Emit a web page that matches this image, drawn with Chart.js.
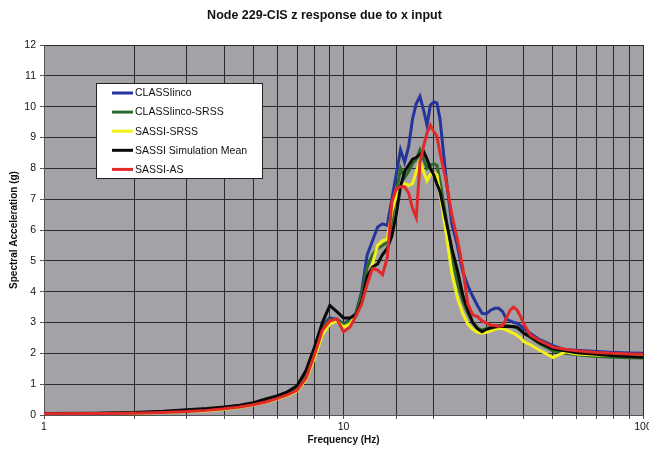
<!DOCTYPE html>
<html>
<head>
<meta charset="utf-8">
<script src="https://cdn.jsdelivr.net/npm/chart.js@4.4.1/dist/chart.umd.min.js"></script>
<style>
  html, body { margin: 0; padding: 0; background: #ffffff; }
  #wrap { width: 649px; height: 457px; }
</style>
</head>
<body>
<div id="wrap"><canvas id="c" width="649" height="457"></canvas></div>
<script>
// Frequencies (Hz) shared by every response spectrum
const frequencies = [1, 1.5, 2, 2.5, 3, 3.5, 4, 4.5, 5, 5.5, 6, 6.5, 7, 7.5, 8, 8.5, 9, 9.5, 10, 10.5,
  11, 11.5, 12, 12.5, 13, 13.5, 14, 14.5, 15, 15.5, 16, 16.5, 17, 17.5, 18, 18.5, 19, 19.5, 20, 20.5,
  21, 22, 23, 24, 25, 26, 27, 28, 29, 30, 31, 32, 33, 34, 35, 36, 37, 38, 39, 40,
  42, 45, 50, 55, 60, 70, 80, 90, 100];

// Spectral acceleration (g) per method
const classIinco = [0.04, 0.05, 0.07, 0.10, 0.13, 0.17, 0.22, 0.28, 0.36, 0.47, 0.57, 0.70, 0.90, 1.30, 2.05, 2.90, 3.15, 3.10, 2.95, 3.10,
  3.30, 4.00, 5.20, 5.65, 6.10, 6.20, 6.15, 7.00, 7.80, 8.60, 8.20, 8.70, 9.60, 10.10, 10.33, 9.90, 9.40, 10.05, 10.15, 10.12,
  9.60, 7.70, 6.20, 5.50, 4.65, 4.20, 3.85, 3.55, 3.30, 3.28, 3.40, 3.46, 3.46, 3.35, 3.10, 3.05, 3.00, 2.98, 2.90, 2.80,
  2.65, 2.45, 2.25, 2.12, 2.10, 2.06, 2.03, 2.01, 2.00];

const classIincoSrss = [0.04, 0.05, 0.07, 0.09, 0.12, 0.16, 0.21, 0.27, 0.34, 0.45, 0.55, 0.67, 0.85, 1.25, 2.00, 2.80, 3.10, 3.10, 2.95, 3.05,
  3.30, 3.90, 4.80, 5.20, 5.40, 5.50, 5.60, 6.30, 7.20, 8.00, 7.70, 7.90, 8.15, 8.30, 8.60, 8.30, 8.00, 8.10, 8.15, 8.10,
  7.60, 6.40, 5.10, 4.30, 3.70, 3.30, 3.00, 2.82, 2.75, 2.80, 2.85, 2.88, 2.90, 2.90, 2.90, 2.88, 2.85, 2.82, 2.75, 2.65,
  2.52, 2.32, 2.08, 2.00, 1.95, 1.90, 1.87, 1.86, 1.85];

const sassiSrss = [0.04, 0.05, 0.06, 0.08, 0.11, 0.14, 0.19, 0.25, 0.32, 0.41, 0.52, 0.63, 0.78, 1.15, 1.85, 2.60, 2.95, 3.05, 2.85, 2.95,
  3.25, 3.70, 4.40, 4.90, 5.50, 5.65, 5.70, 6.60, 7.10, 7.35, 7.50, 7.45, 7.50, 7.90, 8.25, 7.90, 7.60, 7.80, 7.85, 7.80,
  7.20, 5.90, 4.60, 3.80, 3.30, 2.95, 2.78, 2.68, 2.65, 2.68, 2.72, 2.78, 2.81, 2.80, 2.75, 2.70, 2.65, 2.58, 2.50, 2.38,
  2.28, 2.11, 1.86, 2.05, 1.98, 1.95, 1.95, 1.93, 1.92];

const sassiSimulationMean = [0.05, 0.06, 0.08, 0.12, 0.17, 0.21, 0.26, 0.32, 0.40, 0.52, 0.62, 0.75, 0.95, 1.45, 2.20, 3.00, 3.55, 3.35, 3.15, 3.15,
  3.25, 3.70, 4.50, 4.80, 4.90, 5.20, 5.40, 5.80, 6.50, 7.40, 7.90, 8.10, 8.30, 8.35, 8.45, 8.55, 8.30, 8.00, 7.80, 7.50,
  7.25, 6.30, 5.40, 4.70, 3.90, 3.40, 3.00, 2.80, 2.70, 2.78, 2.82, 2.85, 2.87, 2.87, 2.87, 2.87, 2.87, 2.85, 2.75, 2.65,
  2.55, 2.35, 2.15, 2.08, 2.02, 1.97, 1.92, 1.90, 1.87];

const sassiAs = [0.04, 0.05, 0.06, 0.08, 0.11, 0.15, 0.20, 0.26, 0.33, 0.42, 0.53, 0.65, 0.80, 1.20, 1.95, 2.75, 3.05, 3.12, 2.70, 2.85,
  3.20, 3.60, 4.25, 4.75, 4.70, 4.55, 5.10, 6.90, 7.35, 7.40, 7.40, 7.20, 6.70, 6.40, 8.20, 8.70, 9.15, 9.40, 9.20, 9.05,
  8.50, 7.60, 6.50, 5.70, 4.80, 3.60, 3.25, 3.19, 3.05, 2.98, 2.92, 2.90, 2.87, 2.90, 3.15, 3.40, 3.50, 3.40, 3.20, 2.95,
  2.60, 2.42, 2.20, 2.13, 2.08, 2.03, 2.00, 1.98, 1.97];

const seriesNames = ['CLASSIinco', 'CLASSIinco-SRSS', 'SASSI-SRSS', 'SASSI Simulation Mean', 'SASSI-AS'];
const seriesValues = [classIinco, classIincoSrss, sassiSrss, sassiSimulationMean, sassiAs];
const seriesColors = ['#24349a', '#2f6a2c', '#f2f21a', '#0a0a0a', '#e02a2a'];

const yTicks = [0, 1, 2, 3, 4, 5, 6, 7, 8, 9, 10, 11, 12];
const xLabelled = [1, 10, 100];

const FONT = "'Liberation Sans', Arial, sans-serif";

// Later series are painted over earlier ones: Chart.js paints dataset 0 last,
// so datasets are listed back to front.
const datasets = seriesNames.map((name, i) => ({
  label: name,
  data: frequencies.map((f, k) => ({ x: f, y: seriesValues[i][k] })),
  borderColor: seriesColors[i],
  backgroundColor: seriesColors[i],
  borderWidth: 3,
  pointRadius: 0,
  tension: 0,
  fill: false
})).reverse();

const plotBackground = {
  id: 'plotBackground',
  beforeDraw(chart) {
    const { ctx, chartArea: a } = chart;
    ctx.save();
    ctx.fillStyle = '#a4a2a6';
    ctx.fillRect(a.left, a.top, a.right - a.left, a.bottom - a.top);
    ctx.restore();
  }
};

// Boxed key drawn inside the plot area
const boxedLegend = {
  id: 'boxedLegend',
  afterDraw(chart) {
    const { ctx, chartArea: a } = chart;
    const x0 = a.left + 52, y0 = a.top + 38, w = 166, h = 95;
    ctx.save();
    ctx.fillStyle = '#ffffff';
    ctx.fillRect(x0, y0, w, h);
    ctx.strokeStyle = '#222222';
    ctx.lineWidth = 1;
    ctx.strokeRect(x0 + 0.5, y0 + 0.5, w, h);
    ctx.font = '10.5px ' + FONT;
    ctx.textBaseline = 'middle';
    seriesNames.forEach((name, i) => {
      const y = y0 + 10 + i * 19.1;
      ctx.strokeStyle = seriesColors[i];
      ctx.lineWidth = 3;
      ctx.beginPath();
      ctx.moveTo(x0 + 16, y);
      ctx.lineTo(x0 + 37, y);
      ctx.stroke();
      ctx.fillStyle = '#111111';
      ctx.fillText(name, x0 + 39, y + 0.5);
    });
    ctx.restore();
  }
};

new Chart(document.getElementById('c'), {
  type: 'line',
  data: { datasets },
  plugins: [plotBackground, boxedLegend],
  options: {
    responsive: false,
    devicePixelRatio: 1,
    animation: false,
    layout: { padding: { left: 0, right: 0, top: 0, bottom: 0 } },
    plugins: {
      legend: { display: false },
      tooltip: { enabled: false },
      title: {
        display: true,
        text: 'Node 229-CIS z response due to x input',
        color: '#111111',
        font: { family: FONT, size: 12.5, weight: 'bold' },
        padding: { top: 8, bottom: 22 }
      }
    },
    scales: {
      x: {
        type: 'logarithmic',
        min: 1,
        max: 100,
        grid: { color: '#2b2b2b', lineWidth: 1, tickLength: 4, tickColor: '#555555' },
        border: { display: true, color: '#555555', width: 1 },
        ticks: {
          autoSkip: false,
          maxRotation: 0,
          padding: 2,
          color: '#111111',
          font: { family: FONT, size: 10.5 },
          callback: (v) => xLabelled.includes(Number(v)) ? String(v) : ''
        },
        title: {
          display: true,
          text: 'Frequency (Hz)',
          color: '#111111',
          font: { family: FONT, size: 10, weight: 'bold' },
          padding: { top: 0, bottom: 11 }
        },
        afterFit(scale) {
          scale.height = 42;
          scale.paddingRight = 6;
        }
      },
      y: {
        min: 0,
        max: 12,
        afterBuildTicks(scale) {
          scale.ticks = yTicks.map(v => ({ value: v }));
        },
        grid: { color: '#2b2b2b', lineWidth: 1, tickLength: 4, tickColor: '#555555' },
        border: { display: true, color: '#555555', width: 1 },
        ticks: {
          padding: 4,
          color: '#111111',
          font: { family: FONT, size: 10.5 }
        },
        title: {
          display: true,
          text: 'Spectral Acceleration (g)',
          color: '#111111',
          font: { family: FONT, size: 10, weight: 'bold' },
          padding: { top: 8, bottom: 0 }
        },
        afterFit(scale) {
          scale.width = 44;
        }
      }
    }
  }
});
</script>
</body>
</html>
